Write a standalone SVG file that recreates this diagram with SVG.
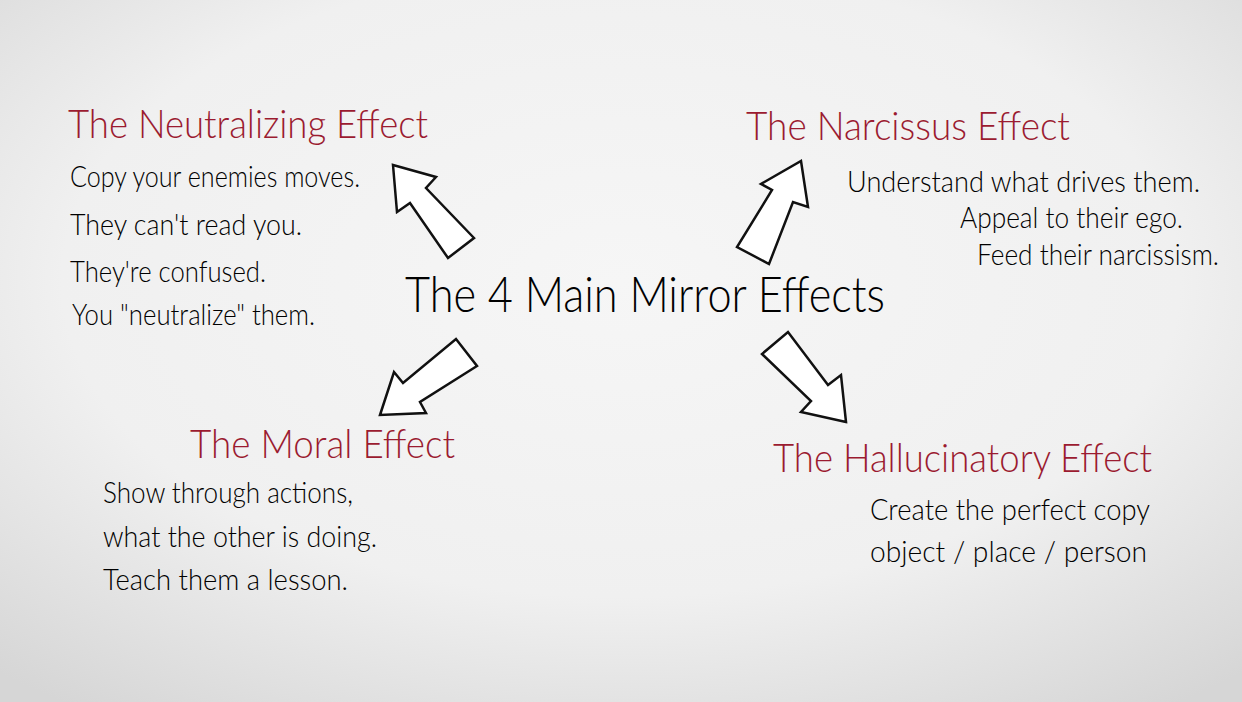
<svg xmlns="http://www.w3.org/2000/svg" width="1242" height="702" viewBox="0 0 1242 702">
<defs>
<radialGradient id="bg" cx="0.5" cy="0.4" r="0.75">
<stop offset="0" stop-color="#f6f6f6"/>
<stop offset="0.6" stop-color="#f0f0f0"/>
<stop offset="1" stop-color="#d6d6d6"/>
</radialGradient>
<style>
.h{font-family:"Lato","Open Sans","Liberation Sans",sans-serif;font-weight:300;fill:#9b1b30;font-size:40px}
.b{font-family:"Lato","Open Sans","Liberation Sans",sans-serif;font-weight:300;fill:#000;font-size:29px}
.t{font-family:"Lato","Open Sans","Liberation Sans",sans-serif;font-weight:300;fill:#000;font-size:50px}
.ar{fill:#fff;stroke:#111;stroke-width:2.5;stroke-linejoin:miter}
</style>
</defs>
<rect width="1242" height="702" fill="url(#bg)"/>
<g id="center">
<text class="t" x="405" y="312" textLength="480" lengthAdjust="spacingAndGlyphs">The 4 Main Mirror Effects</text>
</g>
<g id="connectors">
<polygon class="ar" points="393,165 436,177 426,188 474,238 448,258 410,203 397,212"/>
<polygon class="ar" points="801,161 808,207 793,202 769,264 737,247 772,190 761,184"/>
<polygon class="ar" points="380,415 394,372 403,383 456,339 477,366 420,402 426,413"/>
<polygon class="ar" points="846,422 801,412 811,401 762,354 788,332 828,385 841,375"/>
</g>
<g id="neutralizing">
<text class="h" x="68" y="138" textLength="360" lengthAdjust="spacingAndGlyphs">The Neutralizing Effect</text>
<text class="b" x="70" y="187" textLength="290" lengthAdjust="spacingAndGlyphs">Copy your enemies moves.</text>
<text class="b" x="70" y="235" textLength="232" lengthAdjust="spacingAndGlyphs">They can't read you.</text>
<text class="b" x="70" y="282" textLength="196" lengthAdjust="spacingAndGlyphs">They're confused.</text>
<text class="b" x="72" y="325" textLength="243" lengthAdjust="spacingAndGlyphs">You "neutralize" them.</text>
</g>
<g id="narcissus">
<text class="h" x="746" y="140" textLength="324" lengthAdjust="spacingAndGlyphs">The Narcissus Effect</text>
<text class="b" x="847" y="192" textLength="353" lengthAdjust="spacingAndGlyphs">Understand what drives them.</text>
<text class="b" x="960" y="228" textLength="223" lengthAdjust="spacingAndGlyphs">Appeal to their ego.</text>
<text class="b" x="977" y="265" textLength="242" lengthAdjust="spacingAndGlyphs">Feed their narcissism.</text>
</g>
<g id="moral">
<text class="h" x="190" y="458" textLength="265" lengthAdjust="spacingAndGlyphs">The Moral Effect</text>
<text class="b" x="103" y="503" textLength="250" lengthAdjust="spacingAndGlyphs">Show through actions,</text>
<text class="b" x="103" y="547" textLength="274" lengthAdjust="spacingAndGlyphs">what the other is doing.</text>
<text class="b" x="103" y="590" textLength="245" lengthAdjust="spacingAndGlyphs">Teach them a lesson.</text>
</g>
<g id="hallucinatory">
<text class="h" x="773" y="472" textLength="379" lengthAdjust="spacingAndGlyphs">The Hallucinatory Effect</text>
<text class="b" x="870" y="520" textLength="280" lengthAdjust="spacingAndGlyphs">Create the perfect copy</text>
<text class="b" x="870" y="562" textLength="277" lengthAdjust="spacingAndGlyphs">object / place / person</text>
</g>
</svg>
